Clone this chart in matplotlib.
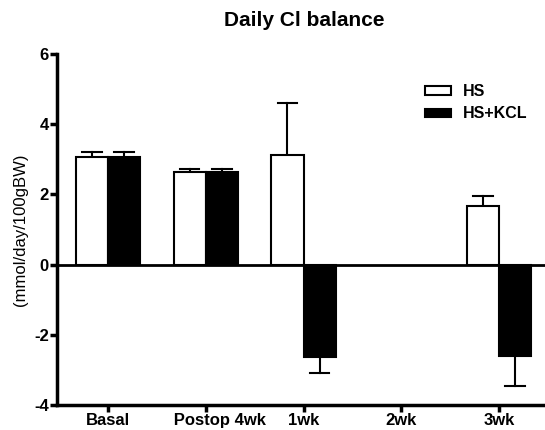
import numpy as np
import matplotlib.pyplot as plt

plt.rcParams['font.family'] = ['Liberation Sans', 'DejaVu Sans']
plt.rcParams['axes.unicode_minus'] = False

# leading spaces: the "Postop 4wk" label sits right of its tick in the original
groups = ["Basal", "      Postop 4wk", "1wk", "2wk", "3wk"]
hs_mean = [3.06, 2.63, 3.13, np.nan, 1.67]
hs_err = [0.16, 0.10, 1.48, np.nan, 0.30]
kcl_mean = [3.08, 2.65, -2.64, np.nan, -2.61]
kcl_err = [0.14, 0.08, 0.44, np.nan, 0.84]

fig = plt.figure(figsize=(5.45, 4.3), dpi=100)
ax = fig.add_axes([0.1046, 0.058, 0.8954, 0.8163])

x = np.arange(len(groups))
w = 0.33


def draw_errs(xpos, mean, err):
    for xi, m, e in zip(xpos, mean, err):
        if np.isnan(m):
            continue
        s = 1 if m >= 0 else -1
        ax.plot([xi, xi], [m, m + s * e], color="black", lw=1.5, zorder=1)
        ax.plot([xi - 0.1, xi + 0.1], [m + s * e] * 2, color="black", lw=1.5, zorder=1)


draw_errs(x - w / 2, hs_mean, hs_err)
draw_errs(x + w / 2, kcl_mean, kcl_err)

ax.bar(x - w / 2, hs_mean, w, color="white", edgecolor="black", linewidth=1.5,
       label="HS", zorder=2)
ax.bar(x + w / 2, kcl_mean, w, color="black", edgecolor="black", linewidth=1.5,
       label="HS+KCL", zorder=2)

ax.axhline(0, color="black", lw=2, zorder=3)

ax.set_xlim(-0.522, 4.47)
ax.set_ylim(-4, 6)
ax.set_yticks([-4, -2, 0, 2, 4, 6])
ax.set_xticks(x)
ax.set_xticklabels(groups, fontweight="bold", fontsize=12)
for lab in ax.get_yticklabels():
    lab.set_fontweight("bold")
    lab.set_fontsize(12)

for side in ["top", "right"]:
    ax.spines[side].set_visible(False)
ax.spines["left"].set_linewidth(2.5)
ax.spines["bottom"].set_linewidth(2.5)
ax.tick_params(axis="both", width=2.5, length=5, pad=1)

ax.set_ylabel("(mmol/day/100gBW)", fontsize=12, labelpad=4)
fig.text(0.558, 0.953, "Daily Cl balance", ha="center", va="center",
         fontsize=15, fontweight="bold")

leg = ax.legend(loc="upper left", bbox_to_anchor=(0.725, 0.955), frameon=False,
                prop={"weight": "bold", "size": 11.5}, handlelength=1.6,
                handleheight=0.4, handletextpad=0.75, labelspacing=0.45)

fig.savefig("out.png", dpi=100)
